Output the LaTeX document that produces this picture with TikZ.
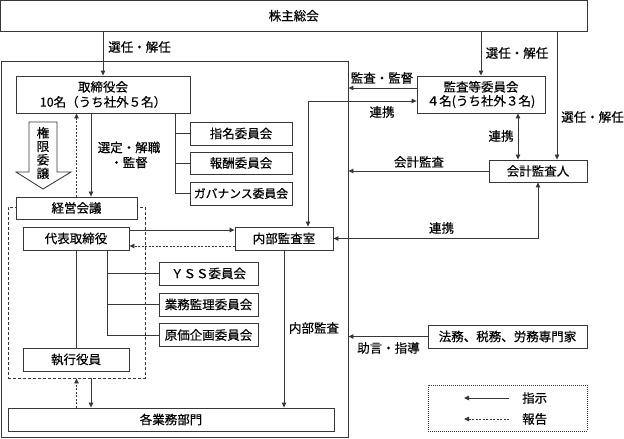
\documentclass[tikz,border=0pt]{standalone}
\usepackage{fontspec}
\newfontfamily\cjk{Noto Sans CJK JP}[FakeBold=0.4]
\usetikzlibrary{arrows.meta,calc}
\definecolor{lncol}{RGB}{55,55,55}
\begin{document}
\begin{tikzpicture}[x=1bp,y=-1bp,
  every node/.style={font=\cjk\fontsize{12.5bp}{15bp}\selectfont, text=black},
  box/.style={draw=lncol, line width=0.85bp, fill=white, inner sep=0pt, align=center},
  lbl/.style={inner sep=0pt, align=center},
  conn/.style={draw=lncol, line width=0.85bp},
  ar/.style={conn, -{Triangle[length=5bp,width=4.5bp]}},
  br/.style={conn, {Triangle[length=5bp,width=4.5bp]}-{Triangle[length=5bp,width=4.5bp]}},
  dar/.style={ar, dash pattern=on 2bp off 1.5bp},
]
\useasboundingbox (0,0) rectangle (624,439);

% frames
\node[box, fill=none, minimum width=347bp, minimum height=376bp] (co) at (174.5,249) {};
\node[draw=lncol, line width=0.85bp, dash pattern=on 3bp off 2bp, inner sep=0pt, minimum width=137bp, minimum height=171bp] (grp) at (76.5,292.5) {};

% boxes
\node[box, minimum width=586.5bp, minimum height=30.5bp] (top) at (293.75,15.75) {株主総会};
\node[box, minimum width=174bp, minimum height=37bp] (board) at (103,94.5) {取締役会\\10名（うち社外５名）};
\node[box, minimum width=102bp, minimum height=23bp] (nom) at (241,133.5) {指名委員会};
\node[box, minimum width=102bp, minimum height=22bp] (rem) at (241,163) {報酬委員会};
\node[box, minimum width=102bp, minimum height=23bp, font=\cjk\fontsize{11.8bp}{14bp}\selectfont] (gov) at (241,193.5) {ガバナンス委員会};
\node[box, minimum width=121bp, minimum height=22bp] (kei) at (76.5,208) {経営会議};
\node[box, minimum width=106bp, minimum height=23bp] (rep) at (76,238.5) {代表取締役};
\node[box, minimum width=99bp, minimum height=23bp] (yss) at (208.5,273.5) {ＹＳＳ委員会};
\node[box, minimum width=99bp, minimum height=23bp] (gyomu) at (208.5,304.5) {業務監理委員会};
\node[box, minimum width=99bp, minimum height=23bp] (genka) at (208.5,335) {原価企画委員会};
\node[box, minimum width=106bp, minimum height=23bp] (exec) at (76,359.5) {執行役員};
\node[box, minimum width=326bp, minimum height=23bp] (dept) at (171,419.5) {各業務部門};
\node[box, minimum width=98bp, minimum height=23bp] (audit) at (284,238.5) {内部監査室};
\node[box, minimum width=128bp, minimum height=37bp, font=\cjk\fontsize{12.5bp}{14bp}\selectfont] (ac) at (481,94.5) {監査等委員会\\４名(うち社外３名)};
\node[box, minimum width=98bp, minimum height=22bp] (ca) at (538,171) {会計監査人};
\node[box, minimum width=159bp, minimum height=23bp] (ext) at (507.5,336.5) {法務、税務、労務専門家};

% delegation hollow arrow
\draw[conn, fill=white] (29,122) -- (57,122) -- (57,172) -- (71,172) -- (43,189) -- (16,172) -- (29,172) -- cycle;
\node[lbl, font=\cjk\fontsize{12.5bp}{13.5bp}\selectfont] (kengen) at (43,153) {権\\限\\委\\譲};

% helper coordinates
\coordinate (bx) at ([xshift=72bp]board.south);
\coordinate (bd) at ([xshift=-12bp]board.south);
\coordinate (caR) at ([xshift=19bp]ca.north);
\coordinate (acL1) at ([yshift=6.5bp]ac.west);
\coordinate (acL2) at ([yshift=-6.5bp]ac.west);
\coordinate (aud1) at ([xshift=24bp]audit.north);
\coordinate (acR) at ([xshift=37bp]ac.south);
\coordinate (rep1) at ([yshift=8.5bp]rep.east);
\coordinate (rep2) at ([yshift=-7.5bp]rep.east);
\coordinate (rx) at ([xshift=31bp]rep.south);
\coordinate (gd) at ([xshift=14.5bp]grp.south);

% connectors
\draw[ar] (board.north |- top.south) -- (board.north);
\draw[ar] (ac.north |- top.south) -- (ac.north);
\draw[ar] (caR |- top.south) -- (caR);
\draw[conn] (bx) |- (gov.west);
\draw[conn] (bx |- nom.west) -- (nom.west);
\draw[conn] (bx |- rem.west) -- (rem.west);
\draw[dar] (kei.north) -- (kei.north |- board.south);
\draw[ar] (bd) -- (bd |- kei.north);
\draw[ar] (acL1) -- (acL1 -| co.east);
\draw[br] (acL2) -| (aud1);
\draw[br] (acR) -- (acR |- ca.north);
\draw[ar] (ca.west) -- (ca.west -| co.east);
\draw[br] (ca.south) |- (audit.east);
\draw[ar] (rep1) -- (rep1 -| audit.west);
\draw[dar] (rep2 -| audit.west) -- (rep2);
\draw[conn] (rep.south) -- (exec.north);
\draw[conn] (rx) |- (genka.west);
\draw[conn] (rx |- yss.west) -- (yss.west);
\draw[conn] (rx |- gyomu.west) -- (gyomu.west);
\draw[dar] (grp.south |- dept.north) -- (grp.south);
\draw[ar] (gd) -- (gd |- dept.north);
\draw[ar] (audit.south) -- (audit.south |- dept.north);
\draw[ar] (ext.west) -- (ext.west -| co.east);

% labels
\node[lbl] (t1) at (139.5,47) {選任・解任};
\node[lbl] (t2) at (517,53) {選任・解任};
\node[lbl] (t3) at (592.5,117) {選任・解任};
\node[lbl] (t4) at (382,78) {監査・監督};
\node[lbl] (t5) at (382,112) {連携};
\node[lbl] (t6) at (501,136) {連携};
\node[lbl] (t7) at (419,162) {会計監査};
\node[lbl] (t8) at (441.5,228) {連携};
\node[lbl] (t9) at (314,328) {内部監査};
\node[lbl] (t10) at (388.5,348) {助言・指導};
\node[lbl] (t11) at (129,155) {選定・解職\\・監督};

% legend
\node[draw=lncol, line width=0.85bp, dash pattern=on 1bp off 1bp, inner sep=0pt, minimum width=159bp, minimum height=46bp] (leg) at (507.5,408) {};
\coordinate (la1) at (509,398);
\coordinate (lb1) at (464,398);
\coordinate (la2) at (509,419);
\coordinate (lb2) at (464,419);
\draw[ar] (la1) -- (lb1);
\draw[dar] (la2) -- (lb2);
\node[lbl, anchor=west] (lg1) at (522,398) {指示};
\node[lbl, anchor=west] (lg2) at (522,419) {報告};
\end{tikzpicture}
\end{document}
